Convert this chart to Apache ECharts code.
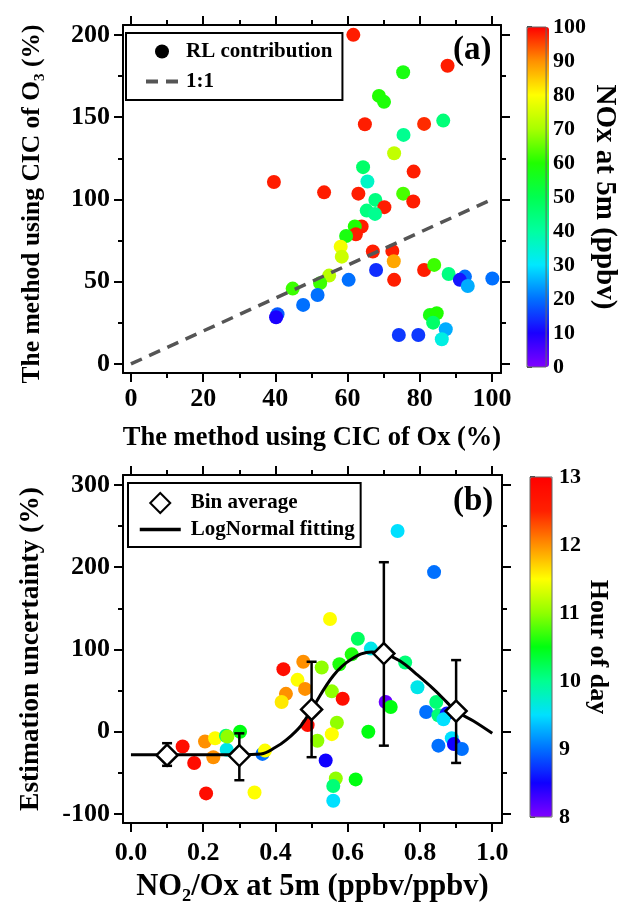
<!DOCTYPE html>
<html>
<head>
<meta charset="utf-8">
<script src="https://cdn.jsdelivr.net/npm/echarts@6/dist/echarts.min.js"></script>
<style>
html, body { margin: 0; padding: 0; background: #fff; }
#main { width: 620px; height: 904px; }
</style>
</head>
<body>
<div id="main"></div>
<script>
// (a) CIC of Ox vs CIC of O3, colour = NOx at 5m
var aCicOx = [39.6, 61.6, 87.7, 75.4, 68.7, 70.1, 64.8, 81.2, 86.5, 75.5, 72.9, 78.3, 64.3, 65.5, 53.5, 63.0, 67.7, 75.4, 78.2, 70.2, 65.3, 67.6, 63.9, 62.0, 62.3, 59.6, 58.1, 58.4, 67.0, 72.4, 72.8, 67.9, 72.9, 60.3, 54.9, 52.4, 51.7, 47.7, 44.8, 40.6, 40.2, 81.2, 84.0, 88.0, 92.5, 91.1, 93.3, 100.1, 82.8, 84.7, 83.7, 87.2, 86.1, 74.2, 79.6]
var aCicO3 = [110.6, 200, 181.2, 177.3, 162.9, 159.3, 145.7, 145.9, 147.9, 139.2, 128.1, 116.9, 119.6, 110.9, 104.3, 103.5, 99.7, 103.5, 98.7, 95.3, 93.2, 91.2, 83.5, 83.5, 78.8, 77.8, 71.3, 65.2, 68.3, 68.7, 62.4, 57.1, 51.1, 51.1, 53.7, 49.1, 41.9, 35.9, 45.8, 30.2, 28.4, 57.1, 60.2, 54.7, 53.1, 51.1, 47.4, 51.9, 29.8, 30.8, 25.1, 21.1, 15.0, 17.6, 17.6]
var aNOx = [98, 98, 98, 58, 60, 59, 98, 97, 45, 42, 73, 98, 47, 36, 98, 98, 44, 63, 98, 98, 44, 42, 98, 60, 98, 58, 79, 74, 98, 98, 88, 14, 98, 20, 72, 62, 20, 20, 62, 18, 10, 98, 62, 44, 20, 12, 25, 20, 58, 60, 47, 25, 33, 15, 15]
var oneToOneX = [0, 100]
var oneToOneY = [0, 100]

// (b) NO2/Ox vs estimation uncertainty, colour = hour of day
var bRatio = [0.143, 0.175, 0.208, 0.205, 0.233, 0.228, 0.265, 0.263, 0.267, 0.302, 0.342, 0.364, 0.371, 0.422, 0.477, 0.461, 0.482, 0.429, 0.417, 0.489, 0.528, 0.577, 0.611, 0.628, 0.664, 0.759, 0.556, 0.586, 0.570, 0.556, 0.516, 0.657, 0.705, 0.719, 0.793, 0.817, 0.845, 0.851, 0.874, 0.865, 0.888, 0.894, 0.916, 0.851, 0.539, 0.567, 0.560, 0.622, 0.560, 0.738, 0.839, 0.551]
var bUncert = [-18, -38, -75, -12, -8, -31, -22, -5, -6, 0, -74, -27, -23, 76, 85, 63, 52, 46, 36, 8, 78, 82, 94, 113, 101, 84, 49, 40, 11, -3, -11, 0, 36, 30, 54, 24, 36, 20, 22, 15, -8, -15, -21, -17, -35, -57, -66, -58, -84, 244, 194, 137]
var bHour = [12.8, 12.8, 12.8, 12.0, 11.5, 12.0, 9.6, 10.1, 11.0, 10.5, 11.5, 9.0, 11.5, 12.8, 12.0, 11.5, 12.0, 12.0, 11.6, 12.8, 11.0, 10.6, 10.6, 10.2, 9.6, 10.1, 11.0, 12.8, 11.0, 11.5, 11.0, 10.5, 8.1, 10.5, 9.6, 9.0, 10.1, 10.1, 8.6, 9.5, 9.5, 8.5, 9.0, 9.0, 8.5, 11.0, 10.1, 10.5, 9.5, 9.5, 9.0, 11.5]

var binX = [0.1, 0.3, 0.5, 0.7, 0.9]
var binMean = [-28.5, -29, 27, 95, 25]
var binLow = [-41.5, -59, -31, -17, -38]
var binHigh = [-14, -2, 85, 206, 87]

var fitX = [0.0, 0.1, 0.2, 0.3, 0.36, 0.4, 0.43, 0.47, 0.5, 0.56, 0.61, 0.667, 0.7, 0.745, 0.79, 0.837, 0.874, 0.9, 0.948, 1.0]
var fitY = [-28, -28, -28, -28, -27, -19, -10, 7, 27, 68, 88, 97, 95, 86, 70, 52, 36, 25, 13, -2]

// tick labels
var aXTicks = [0, 20, 40, 60, 80, 100]
var aXMinor = [10, 30, 50, 70, 90]
var aYTicks = [0, 50, 100, 150, 200]
var aYMinor = [25, 75, 125, 175]
var bXTicks = [0, 0.2, 0.4, 0.6, 0.8, 1.0]
var bXMinor = [0.1, 0.3, 0.5, 0.7, 0.9]
var bYTicks = [-100, 0, 100, 200, 300]
var bYMinor = [-50, 50, 150, 250]

var FONT = "'Liberation Serif', 'Times New Roman', serif"

function zip() {
  var cols = arguments
  return cols[0].map(function (v, i) {
    return Array.prototype.map.call(cols, function (c) { return c[i] })
  })
}

function textStyle(size) {
  return { color: '#000', fontFamily: FONT, fontWeight: 'bold', fontSize: size }
}

// one side of a panel frame: major ticks (labels on bottom/left) or minor ticks
function frameAxis(gridIndex, position, min, max, values, major, labels, extra) {
  var ax = {
    gridIndex: gridIndex,
    type: 'value',
    position: position,
    min: min,
    max: max,
    splitLine: { show: false },
    axisLine: { show: major, onZero: false, lineStyle: { color: '#000', width: 2 } },
    axisTick: {
      inside: false,
      length: major ? 9 : 5,
      customValues: values,
      lineStyle: { color: '#000', width: 2 },
    },
    axisLabel: { show: false },
  }
  if (labels) {
    ax.axisLabel = Object.assign(textStyle(26), {
      show: true,
      customValues: values,
      margin: 13,
      formatter: labels === true ? '{value}' : labels,
    })
  }
  return Object.assign(ax, extra || {})
}

var xAxes = [
  frameAxis(0, 'bottom', -2.2, 102.5, aXTicks, true, true, {
    name: 'The method using CIC of Ox (%)', nameLocation: 'middle', nameGap: 52, nameTextStyle: textStyle(26.5),
  }),
  frameAxis(0, 'bottom', -2.2, 102.5, aXMinor, false, false),
  frameAxis(0, 'top', -2.2, 102.5, aXTicks, true, false),
  frameAxis(0, 'top', -2.2, 102.5, aXMinor, false, false),
  frameAxis(1, 'bottom', -0.022, 1.027, bXTicks, true, function (v) { return v.toFixed(1) }, {
    name: 'NO₂/Ox at 5m (ppbv/ppbv)', nameLocation: 'middle', nameGap: 49, nameTextStyle: textStyle(30.5),
  }),
  frameAxis(1, 'bottom', -0.022, 1.027, bXMinor, false, false),
  frameAxis(1, 'top', -0.022, 1.027, bXTicks, true, false),
  frameAxis(1, 'top', -0.022, 1.027, bXMinor, false, false),
  { gridIndex: 2, type: 'value', show: false },
  { gridIndex: 3, type: 'value', show: false },
]
xAxes[4].axisLabel.margin = 17

var yAxes = [
  frameAxis(0, 'left', -5.5, 206, aYTicks, true, true, {
    name: 'The method using CIC of O₃ (%)', nameLocation: 'middle', nameGap: 78,
    nameTextStyle: Object.assign({ padding: [0, 10, 0, 0] }, textStyle(25.5)),
  }),
  frameAxis(0, 'left', -5.5, 206, aYMinor, false, false),
  frameAxis(0, 'right', -5.5, 206, aYTicks, true, false),
  frameAxis(0, 'right', -5.5, 206, aYMinor, false, false),
  frameAxis(1, 'left', -111, 312, bYTicks, true, true, {
    name: 'Estimation uncertainty (%)', nameLocation: 'middle', nameGap: 78, nameTextStyle: textStyle(27.5),
  }),
  frameAxis(1, 'left', -111, 312, bYMinor, false, false),
  frameAxis(1, 'right', -111, 312, bYTicks, true, false),
  frameAxis(1, 'right', -111, 312, bYMinor, false, false),
]

// colour bar axes
function barAxis(gridIndex, min, max, interval, name, nameSize) {
  return {
    gridIndex: gridIndex,
    type: 'value',
    position: 'right',
    min: min,
    max: max,
    interval: interval,
    splitLine: { show: false },
    axisLine: { show: false },
    axisTick: { inside: false, length: 5, lineStyle: { color: '#000', width: 1.5 } },
    axisLabel: Object.assign(textStyle(22), { margin: 7 }),
    name: name,
    nameLocation: 'middle',
    nameRotate: -90,
    nameGap: 33,
    nameTextStyle: textStyle(nameSize),
  }
}
yAxes.push(barAxis(2, 0, 100, 10, 'NOx at 5m (ppbv)', 29))
yAxes.push(barAxis(3, 8, 13, 1, 'Hour of day', 26))

var noxColors = ['#8000ff', '#1a00ff', '#0070ff', '#00e8ff', '#00ffa0', '#00ff50', '#20ff00', '#a8ff00', '#ffff00', '#ff9000', '#ff0000']
var hourColors = ['#8000ff', '#1000ff', '#0070ff', '#00e0ff', '#00ff90', '#00ff10', '#90ff00', '#ffff00', '#ff9000', '#ff2000', '#ff0000']

var option = {
  animation: false,
  backgroundColor: '#fff',
  grid: [
    { left: 123, top: 25, width: 378, height: 348 },
    { left: 123, top: 475, width: 379, height: 349 },
    { left: 527, top: 27, width: 22, height: 340, show: true, z: 10, borderColor: '#666', borderWidth: 1, backgroundColor: 'transparent' },
    { left: 530, top: 477, width: 22, height: 340, show: true, z: 10, borderColor: '#666', borderWidth: 1, backgroundColor: 'transparent' },
  ],
  xAxis: xAxes,
  yAxis: yAxes,
  title: [
    { text: '(a)', left: 453, top: 34, padding: 0, textStyle: textStyle(33) },
    { text: '(b)', left: 453, top: 485, padding: 0, textStyle: textStyle(33) },
  ],
  legend: [
    {
      data: [
        { name: 'RL contribution', icon: 'circle' },
        { name: '1:1', itemStyle: { opacity: 0 }, lineStyle: { width: 4 } },
      ],
      orient: 'vertical',
      left: 126, top: 33,
      padding: [8, 10, 8, 18],
      itemWidth: 32, itemHeight: 14, itemGap: 9,
      borderColor: '#000', borderWidth: 2,
      textStyle: Object.assign({ padding: [0, 0, 0, 3] }, textStyle(21)),
    },
    {
      data: [
        { name: 'Bin average', icon: 'path://M10,0L20,10L10,20L0,10Z' },
        { name: 'LogNormal fitting', itemStyle: { opacity: 0 }, lineStyle: { width: 3.5 } },
      ],
      orient: 'vertical',
      left: 128, top: 483,
      padding: [9, 6, 7, 10],
      itemWidth: 41, itemHeight: 20, itemGap: 5,
      borderColor: '#000', borderWidth: 2,
      textStyle: Object.assign({ padding: [0, 0, 0, 5] }, textStyle(21)),
    },
  ],
  visualMap: [
    {
      type: 'continuous', seriesIndex: 0, dimension: 2, min: 0, max: 100,
      left: 527, top: 27, itemWidth: 22, itemHeight: 340, padding: 0,
      calculable: false, hoverLink: false, inRange: { color: noxColors },
    },
    {
      type: 'continuous', seriesIndex: 2, dimension: 2, min: 8, max: 13,
      left: 530, top: 477, itemWidth: 22, itemHeight: 340, padding: 0,
      calculable: false, hoverLink: false, inRange: { color: hourColors },
    },
  ],
  series: [
    {
      name: 'RL contribution',
      type: 'scatter',
      xAxisIndex: 0, yAxisIndex: 0,
      symbol: 'circle', symbolSize: 14,
      itemStyle: { color: '#000', opacity: 1 },
      data: zip(aCicOx, aCicO3, aNOx),
      z: 2,
    },
    {
      name: '1:1',
      type: 'line',
      xAxisIndex: 0, yAxisIndex: 0,
      symbol: 'none',
      lineStyle: { color: '#555', width: 3.5, type: [12, 8] },
      itemStyle: { color: '#555' },
      data: zip(oneToOneX, oneToOneY),
      z: 3,
    },
    {
      name: 'hour',
      type: 'scatter',
      xAxisIndex: 4, yAxisIndex: 4,
      symbol: 'circle', symbolSize: 14,
      itemStyle: { opacity: 1 },
      data: zip(bRatio, bUncert, bHour),
      z: 2,
    },
    {
      name: 'LogNormal fitting',
      type: 'line',
      xAxisIndex: 4, yAxisIndex: 4,
      symbol: 'none', smooth: 0.4,
      lineStyle: { color: '#000', width: 3 },
      itemStyle: { color: '#000' },
      data: zip(fitX, fitY),
      z: 3,
    },
    {
      name: 'errbar',
      type: 'custom',
      xAxisIndex: 4, yAxisIndex: 4,
      data: zip(binX, binLow, binHigh),
      renderItem: function (params, api) {
        var lo = api.coord([api.value(0), api.value(1)])
        var hi = api.coord([api.value(0), api.value(2)])
        var style = { stroke: '#000', lineWidth: 2.5 }
        return {
          type: 'group',
          children: [
            { type: 'line', shape: { x1: lo[0], y1: lo[1], x2: hi[0], y2: hi[1] }, style: style },
            { type: 'line', shape: { x1: lo[0] - 5, y1: lo[1], x2: lo[0] + 5, y2: lo[1] }, style: style },
            { type: 'line', shape: { x1: hi[0] - 5, y1: hi[1], x2: hi[0] + 5, y2: hi[1] }, style: style },
          ],
        }
      },
      z: 4,
    },
    {
      name: 'Bin average',
      type: 'scatter',
      xAxisIndex: 4, yAxisIndex: 4,
      symbol: 'diamond', symbolSize: 21,
      itemStyle: { color: '#fff', borderColor: '#000', borderWidth: 2.5, opacity: 1 },
      data: zip(binX, binMean),
      z: 5,
    },
  ],
}

var chart = echarts.init(document.getElementById('main'))
chart.setOption(option)
</script>
</body>
</html>
